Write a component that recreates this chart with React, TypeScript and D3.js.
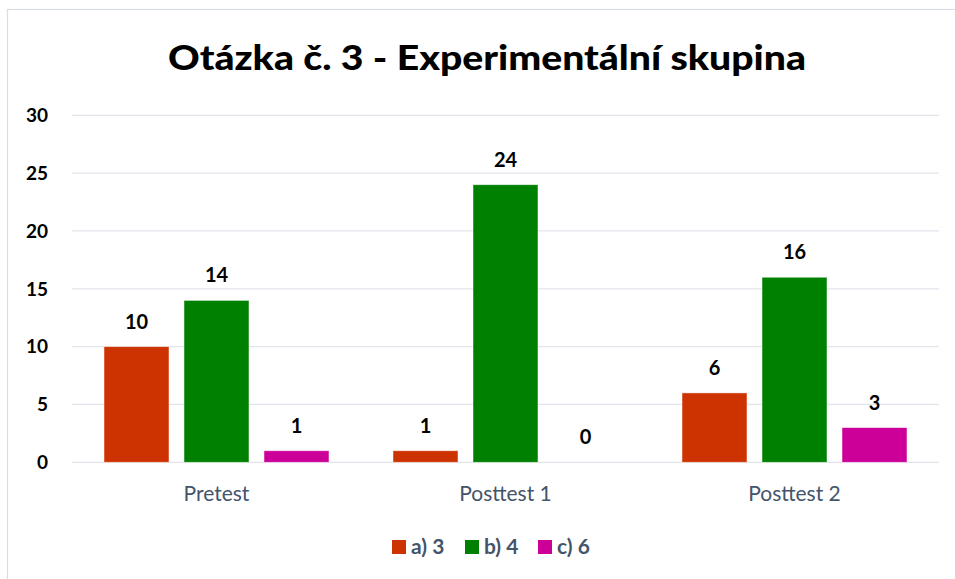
import { useEffect, useRef } from 'react';
import * as d3 from 'd3';

const categories = ['Pretest', 'Posttest 1', 'Posttest 2'];
const seriesNames = ['a) 3', 'b) 4', 'c) 6'];
const seriesColors = ['#CC3300', '#008000', '#CC0099'];
const valuesA = [10, 1, 6];
const valuesB = [14, 24, 16];
const valuesC = [1, 0, 3];
const yTicks = [0, 5, 10, 15, 20, 25, 30];

const FONT = 'Lato, "Open Sans", sans-serif';

export default function App() {
  const svgRef = useRef<SVGSVGElement>(null);

  useEffect(() => {
    const svg = d3.select(svgRef.current);
    svg.selectAll('*').remove();

    const width = 955;
    const height = 579;
    svg.attr('width', width).attr('height', height);

    svg.append('rect')
      .attr('x', 7.5)
      .attr('y', 9.5)
      .attr('width', 1000)
      .attr('height', 1000)
      .attr('fill', '#fff')
      .attr('stroke', '#D9DEE6')
      .attr('stroke-width', 1.2);

    const x0 = d3.scaleBand().domain(categories).range([72, 939]).padding(0);
    const x1 = d3.scaleBand()
      .domain(seriesNames)
      .range([0, 225])
      .paddingInner(0.1875)
      .paddingOuter(0);
    const groupOffset = (x0.bandwidth() - 225) / 2;
    const y = d3.scaleLinear().domain([0, 30]).range([462.3, 115.3]);

    // gridlines
    svg.append('g')
      .selectAll('line')
      .data(yTicks)
      .join('line')
      .attr('x1', 72)
      .attr('x2', 939)
      .attr('y1', d => y(d))
      .attr('y2', d => y(d))
      .attr('stroke', '#E1E5EB')
      .attr('stroke-width', 1.3);

    // y tick labels
    svg.append('g')
      .selectAll('text')
      .data(yTicks)
      .join('text')
      .attr('x', 48)
      .attr('y', d => y(d))
      .attr('dy', '0.36em')
      .attr('text-anchor', 'end')
      .style('font-family', FONT)
      .style('font-size', '19px')
      .style('font-weight', 'bold')
      .attr('fill', '#000')
      .text(d => d);

    const allValues = [valuesA, valuesB, valuesC];
    const rows = categories.flatMap((c, ci) =>
      seriesNames.map((s, si) => ({ c, s, si, v: allValues[si][ci] }))
    );

    const bars = svg.append('g');
    bars.selectAll('rect')
      .data(rows)
      .join('rect')
      .attr('x', d => (x0(d.c) ?? 0) + groupOffset + (x1(d.s) ?? 0))
      .attr('y', d => y(d.v))
      .attr('width', x1.bandwidth())
      .attr('height', d => y(0) - y(d.v))
      .attr('fill', d => seriesColors[d.si])
      .attr('stroke', '#fff')
      .attr('stroke-opacity', 0.6)
      .attr('stroke-width', 0.8);

    bars.selectAll('text')
      .data(rows)
      .join('text')
      .attr('x', d => (x0(d.c) ?? 0) + groupOffset + (x1(d.s) ?? 0) + x1.bandwidth() / 2)
      .attr('y', d => y(d.v) - 18)
      .attr('text-anchor', 'middle')
      .style('font-family', FONT)
      .style('font-size', '20px')
      .style('font-weight', 'bold')
      .attr('fill', '#000')
      .text(d => d.v);

    // category labels
    svg.append('g')
      .selectAll('text')
      .data(categories)
      .join('text')
      .attr('x', d => (x0(d) ?? 0) + x0.bandwidth() / 2)
      .attr('y', 501)
      .attr('text-anchor', 'middle')
      .style('font-family', FONT)
      .style('font-size', '21px')
      .attr('fill', '#44546A')
      .text(d => d);

    // title
    svg.append('text')
      .attr('x', 487)
      .attr('y', 70)
      .attr('text-anchor', 'middle')
      .attr('textLength', 638)
      .attr('lengthAdjust', 'spacingAndGlyphs')
      .style('font-family', FONT)
      .style('font-size', '35px')
      .style('font-weight', 900)
      .attr('fill', '#000')
      .text('Otázka č. 3 - Experimentální skupina');

    // legend
    const legendX = [392, 465, 538];
    const legend = svg.append('g');
    seriesNames.forEach((s, i) => {
      legend.append('rect')
        .attr('x', legendX[i])
        .attr('y', 540)
        .attr('width', 14)
        .attr('height', 14)
        .attr('fill', seriesColors[i]);
      legend.append('text')
        .attr('x', legendX[i] + 19)
        .attr('y', 554)
        .style('font-family', FONT)
        .style('font-size', '21px')
        .style('font-weight', 'bold')
        .attr('fill', '#44546A')
        .text(s);
    });
  }, []);

  return (
    <svg
      ref={svgRef}
      style={{ display: 'block', position: 'absolute', left: 0, top: 0 }}
    ></svg>
  );
}
